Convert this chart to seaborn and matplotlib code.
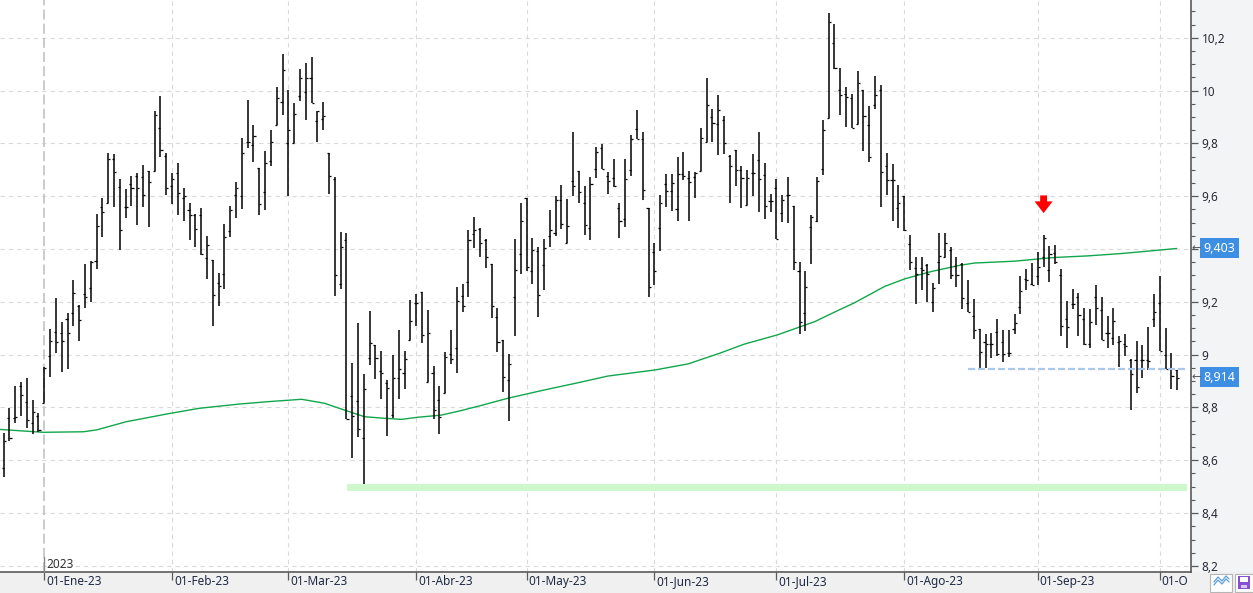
import numpy as np
import pandas as pd
import matplotlib
matplotlib.use("Agg")
import matplotlib.pyplot as plt
import matplotlib.transforms as mtransforms
from matplotlib.ticker import MultipleLocator
from matplotlib.patches import Rectangle
from matplotlib.lines import Line2D
import seaborn as sns

# ---------------- data ----------------
opens = [8.569, 8.759, 8.759, 8.881, 8.819, 8.740, 8.768, 8.818, 8.996, 9.085,
         9.081, 9.134, 9.157, 9.184, 9.229, 9.251, 9.354, 9.558, 9.573, 9.741,
         9.634, 9.558, 9.645, 9.677, 9.672, 9.696, 9.696, 9.858, 9.753, 9.639,
         9.687, 9.595, 9.548, 9.527, 9.528, 9.365, 9.359, 9.270, 9.306, 9.469,
         9.605, 9.601, 9.805, 9.794, 9.706, 9.615, 9.734, 9.868, 9.956, 9.800,
         9.800, 9.978, 9.994, 10.047, 9.883, 9.893, 9.763, 9.666, 9.267, 9.435,
         8.845, 8.824, 8.683, 8.986, 9.037, 8.938, 8.891, 8.771, 8.910, 8.929,
         9.054, 9.195, 9.236, 8.898, 8.929, 8.828, 8.856, 9.001, 9.024, 9.224,
         9.274, 9.456, 9.475, 9.435, 9.344, 9.144, 9.056, 8.904, 9.217, 9.380,
         9.595, 9.317, 9.393, 9.340, 9.450, 9.460, 9.586, 9.421, 9.658, 9.697,
         9.573, 9.479, 9.704, 9.782, 9.677, 9.668, 9.557, 9.514, 9.700, 9.854,
         9.816, 9.557, 9.387, 9.479, 9.647, 9.620, 9.551, 9.683, 9.668, 9.671,
         9.696, 9.805, 9.899, 9.875, 9.888, 9.754, 9.775, 9.698, 9.568, 9.688,
         9.738, 9.681, 9.580, 9.631, 9.536, 9.603, 9.564, 9.315, 9.157, 9.485,
         9.507, 9.703, 9.898, 10.180, 10.002, 9.988, 9.972, 9.873, 10.003, 9.871,
         9.946, 10.003, 9.715, 9.662, 9.557, 9.602, 9.420, 9.328, 9.328, 9.338,
         9.201, 9.349, 9.368, 9.397, 9.336, 9.345, 9.197, 9.147, 9.099, 9.048,
         9.042, 9.086, 9.048, 9.006, 9.099, 9.181, 9.288, 9.269, 9.297, 9.370,
         9.322, 9.385, 9.303, 9.134, 9.193, 9.220, 9.136, 9.039, 9.219, 9.168,
         9.083, 9.063, 9.048, 9.039, 8.979, 8.979, 8.979, 8.979, 9.136, 9.196,
         9.000, 8.947, 8.941]
highs = [8.702, 8.797, 8.881, 8.898, 8.910, 8.828, 8.778, 8.955, 9.097, 9.213,
         9.123, 9.159, 9.283, 9.188, 9.345, 9.355, 9.533, 9.592, 9.765, 9.760,
         9.666, 9.628, 9.677, 9.687, 9.719, 9.696, 9.921, 9.978, 9.765, 9.687,
         9.727, 9.630, 9.573, 9.533, 9.554, 9.451, 9.359, 9.311, 9.494, 9.563,
         9.654, 9.820, 9.965, 9.870, 9.706, 9.772, 9.851, 10.013, 10.139, 10.003,
         9.952, 10.082, 10.104, 10.127, 9.921, 9.956, 9.763, 9.672, 9.464, 9.460,
         8.967, 9.119, 8.925, 9.165, 9.037, 9.014, 8.904, 8.999, 9.093, 9.014,
         9.207, 9.230, 9.236, 9.169, 8.958, 8.881, 9.011, 9.093, 9.255, 9.267,
         9.472, 9.520, 9.481, 9.438, 9.344, 9.176, 9.056, 9.003, 9.438, 9.573,
         9.595, 9.441, 9.409, 9.437, 9.548, 9.601, 9.643, 9.590, 9.844, 9.697,
         9.639, 9.672, 9.786, 9.798, 9.691, 9.741, 9.573, 9.741, 9.830, 9.927,
         9.844, 9.557, 9.424, 9.605, 9.685, 9.685, 9.748, 9.768, 9.697, 9.693,
         9.858, 10.048, 9.931, 9.982, 9.905, 9.757, 9.775, 9.714, 9.700, 9.760,
         9.842, 9.727, 9.609, 9.665, 9.605, 9.674, 9.564, 9.349, 9.317, 9.527,
         9.671, 9.890, 10.295, 10.253, 10.085, 10.012, 9.987, 10.075, 10.003, 9.943,
         10.054, 10.022, 9.763, 9.723, 9.643, 9.602, 9.454, 9.369, 9.369, 9.343,
         9.273, 9.460, 9.460, 9.406, 9.368, 9.347, 9.282, 9.210, 9.099, 9.080,
         9.082, 9.134, 9.092, 9.092, 9.153, 9.298, 9.326, 9.347, 9.387, 9.455,
         9.411, 9.414, 9.323, 9.202, 9.248, 9.235, 9.178, 9.173, 9.263, 9.219,
         9.145, 9.178, 9.071, 9.080, 8.985, 9.051, 9.038, 9.105, 9.231, 9.297,
         9.101, 9.008, 8.941]
lows = [8.538, 8.674, 8.740, 8.768, 8.721, 8.698, 8.708, 8.818, 8.914, 9.008,
        8.936, 8.947, 9.110, 9.053, 9.178, 9.201, 9.326, 9.447, 9.573, 9.558,
        9.397, 9.519, 9.563, 9.491, 9.561, 9.485, 9.696, 9.750, 9.605, 9.572,
        9.529, 9.508, 9.434, 9.407, 9.378, 9.288, 9.110, 9.186, 9.248, 9.447,
        9.517, 9.551, 9.784, 9.731, 9.527, 9.546, 9.716, 9.868, 9.908, 9.601,
        9.800, 9.962, 9.887, 9.952, 9.807, 9.849, 9.610, 9.224, 9.248, 8.755,
        8.607, 8.689, 8.512, 8.961, 8.907, 8.831, 8.693, 8.761, 8.831, 8.869,
        9.054, 9.110, 9.043, 8.898, 8.755, 8.698, 8.856, 8.963, 8.929, 9.160,
        9.217, 9.403, 9.369, 9.330, 9.138, 9.011, 8.860, 8.750, 9.072, 9.304,
        9.315, 9.267, 9.144, 9.245, 9.409, 9.451, 9.475, 9.421, 9.599, 9.573,
        9.453, 9.435, 9.668, 9.702, 9.609, 9.634, 9.443, 9.483, 9.677, 9.816,
        9.584, 9.220, 9.264, 9.394, 9.561, 9.543, 9.508, 9.662, 9.508, 9.592,
        9.696, 9.805, 9.807, 9.757, 9.761, 9.576, 9.637, 9.557, 9.565, 9.602,
        9.539, 9.513, 9.542, 9.437, 9.504, 9.498, 9.321, 9.077, 9.090, 9.343,
        9.502, 9.681, 9.898, 10.082, 9.909, 9.861, 9.857, 9.873, 9.770, 9.728,
        9.930, 9.561, 9.603, 9.508, 9.479, 9.470, 9.319, 9.191, 9.245, 9.201,
        9.163, 9.267, 9.368, 9.285, 9.258, 9.174, 9.162, 9.061, 8.947, 8.949,
        8.987, 8.994, 8.972, 8.991, 9.077, 9.155, 9.244, 9.263, 9.263, 9.332,
        9.275, 9.345, 9.071, 9.027, 9.174, 9.071, 9.038, 9.025, 9.111, 9.054,
        9.025, 9.035, 8.953, 8.995, 8.792, 8.856, 8.912, 8.941, 9.105, 9.013,
        8.947, 8.869, 8.867]
closes = [8.673, 8.683, 8.763, 8.847, 8.752, 8.781, 8.715, 8.948, 9.052, 9.047,
          9.052, 9.081, 9.232, 9.131, 9.217, 9.350, 9.488, 9.542, 9.741, 9.692,
          9.471, 9.558, 9.630, 9.630, 9.604, 9.654, 9.908, 9.774, 9.630, 9.664,
          9.611, 9.599, 9.529, 9.475, 9.380, 9.416, 9.226, 9.260, 9.447, 9.548,
          9.630, 9.763, 9.807, 9.829, 9.570, 9.725, 9.805, 9.971, 10.079, 9.850,
          9.911, 10.047, 10.047, 9.952, 9.921, 9.904, 9.677, 9.302, 9.408, 8.755,
          8.768, 8.718, 8.870, 9.043, 8.986, 8.929, 8.872, 8.912, 8.946, 8.984,
          9.128, 9.195, 9.075, 9.081, 8.790, 8.765, 8.991, 8.984, 9.203, 9.184,
          9.435, 9.472, 9.422, 9.369, 9.186, 9.047, 8.914, 8.963, 9.320, 9.506,
          9.331, 9.397, 9.225, 9.403, 9.472, 9.586, 9.494, 9.488, 9.639, 9.616,
          9.491, 9.647, 9.768, 9.704, 9.658, 9.640, 9.506, 9.666, 9.817, 9.816,
          9.624, 9.258, 9.317, 9.573, 9.620, 9.649, 9.683, 9.675, 9.653, 9.687,
          9.820, 9.946, 9.879, 9.926, 9.801, 9.714, 9.699, 9.669, 9.669, 9.688,
          9.666, 9.564, 9.580, 9.437, 9.585, 9.603, 9.350, 9.123, 9.258, 9.521,
          9.659, 9.849, 10.260, 10.085, 9.984, 9.974, 9.858, 10.029, 9.905, 9.748,
          9.984, 9.691, 9.662, 9.662, 9.574, 9.473, 9.349, 9.305, 9.321, 9.305,
          9.254, 9.374, 9.421, 9.302, 9.300, 9.216, 9.162, 9.092, 9.010, 9.039,
          9.039, 9.004, 9.004, 9.006, 9.121, 9.240, 9.282, 9.265, 9.332, 9.440,
          9.383, 9.350, 9.107, 9.104, 9.193, 9.149, 9.039, 9.124, 9.177, 9.057,
          9.083, 9.126, 9.051, 9.034, 8.928, 8.877, 8.979, 8.976, 9.162, 9.013,
          8.947, 8.918, 8.913]

# moving average (green line), sampled along the bar axis
ma_bar = [0.3, 7.8, 14.7, 17.0, 22.1, 29.0, 34.7, 41.6, 46.5, 52.3,
          56.2, 59.7, 63.1, 66.6, 69.5, 72.3, 76.3, 79.7, 82.9, 87.8,
          93.6, 99.3, 105.0, 113.1, 118.8, 124.2, 128.5, 134.2, 140.6, 144.0,
          147.5, 152.6, 156.1, 160.7, 165.5, 168.1, 175.0, 181.9, 187.6, 193.4,
          198.0, 202.9]
ma_value = [8.717, 8.706, 8.708, 8.715, 8.746, 8.775, 8.797, 8.813, 8.822, 8.831,
            8.816, 8.790, 8.765, 8.759, 8.755, 8.763, 8.771, 8.788, 8.806, 8.835,
            8.864, 8.891, 8.919, 8.942, 8.965, 9.005, 9.040, 9.075, 9.125, 9.161,
            9.197, 9.258, 9.287, 9.315, 9.338, 9.347, 9.354, 9.368, 9.374, 9.383,
            9.392, 9.402]

month_start_bar = [8, 30, 50, 72, 91, 113, 134, 156, 179, 200]
month_labels = ["01-Ene-23", "01-Feb-23", "01-Mar-23", "01-Abr-23", "01-May-23",
                "01-Jun-23", "01-Jul-23", "01-Ago-23", "01-Sep-23", "01-O"]
year_label = "2023"

y_ticks = [8.2, 8.4, 8.6, 8.8, 9.0, 9.2, 9.4, 9.6, 9.8, 10.0, 10.2]
# the 9,4 label is hidden behind the 9,403 tag in the reference
y_labels = ["8,2", "8,4", "8,6", "8,8", "9", "9,2", "", "9,6", "9,8", "10", "10,2"]

support_band = (8.485, 8.512)
support_span = (60.1, 204.6)
dashed_level = 8.944
dashed_span = (167.0, 204.4)
arrow_bar = 180
arrow_from, arrow_to = 9.603, 9.536
ma_last_label = (9.403, "9,403")
close_last_label = (8.914, "8,914")

# ---------------- figure ----------------
sns.set_theme(style="white")
plt.rcParams["font.family"] = ["Noto Sans", "DejaVu Sans"]

W, H = 1253, 593
fig = plt.figure(figsize=(W / 100, H / 100), dpi=100, facecolor="#f3f4f6")
fig.patches.append(Rectangle((0, 0), 1, 21 / H, transform=fig.transFigure,
                             fc="#f0f0f0", ec="none", zorder=-1))
ax = fig.add_axes([0, 21 / H, 1191 / W, 572 / H])
ax.set_facecolor("white")

df = pd.DataFrame({"bar": np.arange(1, len(opens) + 1), "open": opens,
                   "high": highs, "low": lows, "close": closes})

ax.set_xlim(0.375, 205.37)
ax.set_ylim(8.177, 10.343)

grid_c = "#dadada"
for v in y_ticks:
    ax.axhline(v, color=grid_c, lw=0.8, ls=(0, (4, 3.5)), zorder=0)
for i, m in enumerate(month_start_bar):
    if i == 0:
        ax.axvline(m, color="#c2c2c2", lw=1.2, ls=(0, (6, 2.5)), zorder=0)
    else:
        ax.axvline(m, color=grid_c, lw=0.8, ls=(0, (4, 3.5)), zorder=0)

# support band
ax.fill_between(list(support_span), support_band[0], support_band[1],
                color="#ccf8cc", lw=0, zorder=1)

# moving average
sns.lineplot(x=ma_bar, y=ma_value, ax=ax, color="#12a64c", lw=1.0,
             estimator=None, sort=False, zorder=2)

# OHLC bars
ax.vlines(df["bar"], df["low"], df["high"], color="black", lw=1.1, zorder=3)
ax.hlines(df["open"], df["bar"] - 0.36, df["bar"], color="black", lw=0.9, zorder=3)
ax.hlines(df["close"], df["bar"], df["bar"] + 0.36, color="black", lw=0.9, zorder=3)

# dashed level
ax.hlines(dashed_level, dashed_span[0], dashed_span[1], color="#a9c8ec",
          lw=1.6, ls=(0, (3.2, 1.3)), zorder=4)

# red arrow
ax.annotate("", xy=(arrow_bar, arrow_to), xytext=(arrow_bar, arrow_from),
            arrowprops=dict(arrowstyle="simple,head_width=1.0,head_length=0.65,tail_width=0.38",
                            fc="#ff0000", ec="none", shrinkA=0, shrinkB=0,
                            mutation_scale=13), zorder=5)

# spines
for s in ["top", "left"]:
    ax.spines[s].set_visible(False)
for s in ["right", "bottom"]:
    ax.spines[s].set_visible(True)
    ax.spines[s].set_color("#5a5a5a")
    ax.spines[s].set_linewidth(1.2)

# y axis on the right
ax.yaxis.tick_right()
ax.set_yticks(y_ticks)
ax.set_yticklabels(y_labels)
ax.yaxis.set_minor_locator(MultipleLocator(0.05))
ax.tick_params(axis="y", which="major", right=True, left=False, labelright=True,
               labelleft=False, length=4.8, width=0.9, color="#5a5a5a", pad=3,
               labelsize=8.5, labelcolor="#2a2a3a", direction="out")
ax.tick_params(axis="y", which="minor", right=True, left=False, length=2.9,
               width=0.8, color="#5a5a5a", direction="out")

# x axis
ax.set_xticks(month_start_bar)
ax.set_xticklabels([])
ax.tick_params(axis="x", which="major", bottom=True, length=5.8, width=0.9,
               color="#5a5a5a", direction="out")
trans = mtransforms.blended_transform_factory(ax.transData, ax.transAxes)
for m, lab in zip(month_start_bar, month_labels):
    ax.text(m + 0.35, -3.0 / 572, lab, transform=trans, ha="left", va="top",
            fontsize=8.5, color="#1f2a44", clip_on=False)
ax.text(month_start_bar[0] + 0.35, 1.0 / 572, year_label, transform=trans,
        ha="left", va="bottom", fontsize=8.5, color="#333333", clip_on=False)
ax.plot([month_start_bar[0]] * 2, [0, 15 / 572], transform=trans,
        color="#8a8a8a", lw=1.0, clip_on=False, zorder=6)

# last value tags
transR = mtransforms.blended_transform_factory(ax.transAxes, ax.transData)
for yv, txt in [ma_last_label, close_last_label]:
    ax.text(1203.5 / 1191, yv, txt, transform=transR, ha="left", va="center",
            fontsize=9, color="white", clip_on=False, zorder=10,
            bbox=dict(boxstyle="square,pad=0.28", fc="#3d8fe3", ec="none"))
    ax.text(1196.5 / 1191, yv, "←", transform=transR, ha="center", va="center",
            fontsize=8, color="#555555", clip_on=False, zorder=10)

# small toolbar icons bottom right
def px(x, y):
    return x / W, 1 - y / H

x0, y0 = px(1210, 592)
fig.patches.append(Rectangle((x0, y0), 22 / W, 18 / H, transform=fig.transFigure,
                             fc="white", ec="#b5b5b5", lw=0.8, zorder=5))
for dy in (0, 3):
    xs = [1214, 1218, 1222, 1226, 1229]
    ys = [585 - dy, 580 - dy, 584 - dy, 579 - dy, 582 - dy]
    fig.lines.append(Line2D([x / W for x in xs], [1 - y / H for y in ys],
                            transform=fig.transFigure, color="#5b9fdc", lw=0.9, zorder=6))
x1, y1 = px(1235, 592)
fig.patches.append(Rectangle((x1, y1), 18 / W, 18 / H, transform=fig.transFigure,
                             fc="white", ec="#b5b5b5", lw=0.8, zorder=5))
xf, yf = px(1238, 589)
fig.patches.append(Rectangle((xf, yf), 12 / W, 13 / H, transform=fig.transFigure,
                             fc="#8a4fd0", ec="none", zorder=6))
xw, yw = px(1240, 582)
fig.patches.append(Rectangle((xw, yw), 8 / W, 5 / H, transform=fig.transFigure,
                             fc="white", ec="none", zorder=7))
xb, yb = px(1241, 588)
fig.patches.append(Rectangle((xb, yb), 6 / W, 3 / H, transform=fig.transFigure,
                             fc="#d9c8f0", ec="none", zorder=7))

fig.savefig("out.png", dpi=100, facecolor=fig.get_facecolor())
